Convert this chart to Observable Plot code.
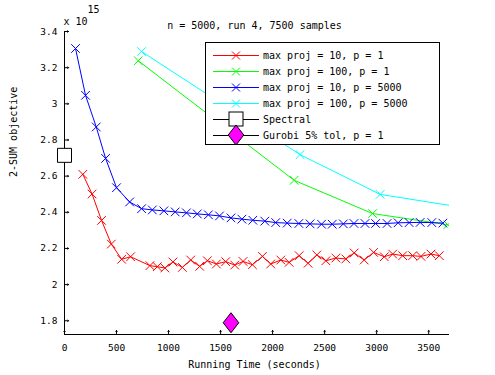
<!DOCTYPE html>
<html>
<head>
<meta charset="utf-8">
<script src="https://cdn.jsdelivr.net/npm/d3@7"></script>
<script src="https://cdn.jsdelivr.net/npm/@observablehq/plot@0.6"></script>
<style>
  html, body { margin: 0; padding: 0; background: #fff; }
</style>
</head>
<body>
<div id="chart"></div>
<script>
// ---- data (objective values in units of 1e15) ----
const title = "n = 5000, run 4, 7500 samples";
const xLabel = "Running Time (seconds)";
const yLabel = "2-SUM objective";
const xTicks = [0, 500, 1000, 1500, 2000, 2500, 3000, 3500];
const yTicks = [1.8, 2, 2.2, 2.4, 2.6, 2.8, 3, 3.2, 3.4];

const redT = [176, 265, 356, 450, 549, 635, 821, 892, 965, 1042, 1133, 1213, 1299, 1373, 1460, 1549, 1636, 1716, 1806, 1903, 1982, 2079, 2159, 2255, 2341, 2425, 2512, 2608, 2704, 2784, 2880, 2971, 3073, 3154, 3250, 3346, 3426, 3522, 3602];
const redV = [2.610, 2.501, 2.355, 2.224, 2.140, 2.154, 2.105, 2.099, 2.092, 2.125, 2.095, 2.136, 2.101, 2.132, 2.114, 2.127, 2.108, 2.128, 2.110, 2.156, 2.114, 2.136, 2.123, 2.160, 2.118, 2.164, 2.132, 2.147, 2.142, 2.175, 2.136, 2.178, 2.154, 2.169, 2.160, 2.160, 2.156, 2.169, 2.160];

const greenT = [709, 2207, 2961, 3683];
const greenV = [3.238, 2.577, 2.393, 2.331];

const blueT = [106, 202, 305, 395, 500, 626, 741, 844, 955, 1064, 1172, 1276, 1383, 1490, 1600, 1705, 1810, 1925, 2030, 2140, 2252, 2360, 2470, 2573, 2680, 2782, 2888, 2990, 3100, 3206, 3312, 3418, 3530, 3636];
const blueV = [3.306, 3.047, 2.872, 2.698, 2.536, 2.457, 2.420, 2.413, 2.408, 2.402, 2.397, 2.391, 2.386, 2.380, 2.369, 2.362, 2.356, 2.351, 2.343, 2.340, 2.338, 2.336, 2.334, 2.334, 2.336, 2.338, 2.338, 2.338, 2.338, 2.342, 2.343, 2.344, 2.343, 2.340];

const cyanT = [741, 2264, 3034, 3900];
const cyanV = [3.289, 2.719, 2.499, 2.420];

const spectralT = [0];
const spectralV = [2.715];
const gurobiT = [1600];
const gurobiV = [1.789];

const seriesNames = ["max proj = 10, p = 1", "max proj = 100, p = 1", "max proj = 10, p = 5000", "max proj = 100, p = 5000", "Spectral", "Gurobi 5% tol, p = 1"];
const seriesColors = ["#ff0000", "#00ff00", "#0000ff", "#00ffff", "#000000", "#000000"];

// ---- build tables ----
const zip = (T, V) => T.map((t, i) => ({t, v: V[i]}));
const red = zip(redT, redV), green = zip(greenT, greenV), blue = zip(blueT, blueV), cyan = zip(cyanT, cyanV);
const spectral = zip(spectralT, spectralV), gurobi = zip(gurobiT, gurobiV);

const diamond = {
  draw(ctx, size) {
    const hh = Math.sqrt(size / 1.56), hw = hh * 0.78;
    ctx.moveTo(0, -hh); ctx.lineTo(hw, 0); ctx.lineTo(0, hh); ctx.lineTo(-hw, 0); ctx.closePath();
  }
};

const font = "DejaVu Sans Mono";
const serie = (data, color) => [
  Plot.line(data, {x: "t", y: "v", stroke: color, strokeWidth: 1, clip: true}),
  Plot.dot(data, {x: "t", y: "v", symbol: "times", r: 4, stroke: color, strokeWidth: 1, clip: true})
];

const chart = Plot.plot({
  width: 495,
  height: 375,
  marginLeft: 64,
  marginRight: 46,
  marginTop: 31,
  marginBottom: 41,
  style: {fontFamily: font, fontSize: "10px", background: "#fff", color: "#000"},
  x: {domain: [0, 3700], label: null},
  y: {domain: [1.724, 3.4], label: null},
  marks: [
    Plot.axisX({ticks: xTicks, tickSize: 0, tickPadding: 10, tickFormat: d => String(d), fontSize: 9.5}),
    Plot.axisY({ticks: yTicks, tickSize: 0, tickPadding: 7, tickFormat: d => String(d), fontSize: 9.5}),
    Plot.vector(xTicks, {x: d => d, frameAnchor: "bottom", rotate: 0, length: 4, anchor: "start", stroke: "#000", strokeWidth: 1}),
    Plot.vector(yTicks, {y: d => d, frameAnchor: "left", rotate: 90, length: 4, anchor: "start", stroke: "#000", strokeWidth: 1}),
    Plot.ruleX([0], {stroke: "#000"}),
    Plot.ruleY([1.724], {stroke: "#000"}),
    ...serie(cyan, seriesColors[3]),
    ...serie(green, seriesColors[1]),
    ...serie(blue, seriesColors[2]),
    ...serie(red, seriesColors[0]),
    Plot.dot(spectral, {x: "t", y: "v", symbol: "square", r: 7.9, fill: "#fff", stroke: "#000", strokeWidth: 1}),
    Plot.dot(gurobi, {x: "t", y: "v", symbol: diamond, r: 7.05, fill: "#ff00ff", stroke: "#000", strokeWidth: 1}),
    Plot.text([title], {frameAnchor: "top", dx: -2.5, dy: -10, fontSize: 10}),
    Plot.text(["x 10"], {frameAnchor: "top-left", textAnchor: "start", dx: -1, dy: -14, fontSize: 10}),
    Plot.text(["15"], {frameAnchor: "top-left", textAnchor: "start", dx: 23, dy: -26, fontSize: 10}),
    Plot.text([xLabel], {frameAnchor: "bottom", dx: -2.5, dy: 33, fontSize: 10}),
    Plot.text([yLabel], {frameAnchor: "left", rotate: -90, dx: -51, dy: -6, fontSize: 10})
  ]
});

// ---- legend ----
const svg = d3.select(chart);
const lg = svg.append("g").attr("font-family", font).attr("font-size", 10).attr("text-anchor", "start");
lg.append("rect").attr("x", 205.5).attr("y", 42.5).attr("width", 234).attr("height", 102)
  .attr("fill", "#fff").attr("stroke", "#000").attr("stroke-width", 1);
const rowY = [55, 71, 87, 103, 119, 135];
seriesNames.forEach((name, i) => {
  const y = rowY[i];
  lg.append("line").attr("x1", 213).attr("x2", 259).attr("y1", y + 0.5).attr("y2", y + 0.5)
    .attr("stroke", seriesColors[i]).attr("stroke-width", 1);
  if (i < 4) {
    lg.append("path").attr("d", "M-4,-4L4,4M-4,4L4,-4").attr("transform", `translate(236,${y + 0.5})`)
      .attr("stroke", seriesColors[i]).attr("fill", "none");
  } else if (i === 4) {
    lg.append("rect").attr("x", 229).attr("y", y - 7).attr("width", 14).attr("height", 14)
      .attr("fill", "#fff").attr("stroke", "#000");
  } else {
    lg.append("path").attr("d", "M0,-10L7.8,0L0,10L-7.8,0Z").attr("transform", `translate(236,${y})`)
      .attr("fill", "#ff00ff").attr("stroke", "#000");
  }
  lg.append("text").attr("x", 263).attr("y", y).attr("dy", "0.35em").attr("text-anchor", "start")
    .attr("fill", "#000").text(name);
});

document.getElementById("chart").appendChild(chart);
</script>
</body>
</html>
